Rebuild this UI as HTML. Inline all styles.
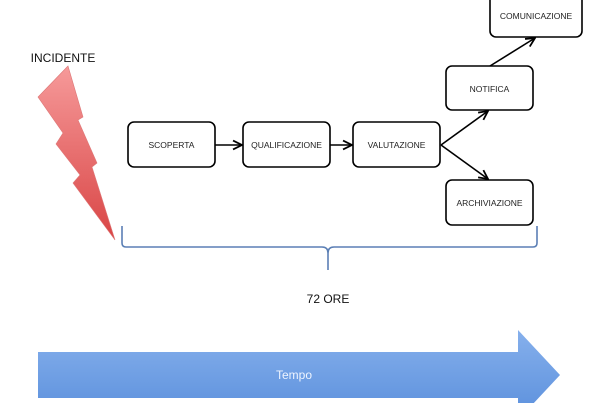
<!DOCTYPE html>
<html><head><meta charset="utf-8"><style>
html,body{margin:0;padding:0;background:#fff;}
svg{display:block;}
text{font-family:"Liberation Sans",sans-serif;}
</style></head><body>
<svg width="600" height="403" viewBox="0 0 600 403" xmlns="http://www.w3.org/2000/svg">
<defs>
<linearGradient id="lg" x1="0" y1="0" x2="0" y2="1">
<stop offset="0" stop-color="#f69a9a"/><stop offset="1" stop-color="#d94545"/>
</linearGradient>
<linearGradient id="bg" x1="0" y1="0" x2="0" y2="1">
<stop offset="0" stop-color="#86b0ec"/><stop offset="1" stop-color="#5a8fdc"/>
</linearGradient>
<marker id="ar" viewBox="0 0 10 10" refX="9" refY="5" markerWidth="7" markerHeight="7" orient="auto">
<path d="M1,1 L9,5 L1,9" fill="none" stroke="#000" stroke-width="1.6"/>
</marker>
</defs>
<text x="63" y="62" font-size="12" text-anchor="middle" fill="#111">INCIDENTE</text>
<polygon points="68,66 83,117 78,120 97,163 92,167 115,240 73,183 80,175 56,144 63,133 38,97" fill="url(#lg)" stroke="#d77" stroke-width="0.6"/>
<g fill="#fff" stroke="#000" stroke-width="1.6">
<rect x="128" y="122" width="87" height="45" rx="6"/>
<rect x="243" y="122" width="87" height="45" rx="6"/>
<rect x="353" y="122" width="87" height="45" rx="6"/>
<rect x="446" y="66" width="87" height="44" rx="6"/>
<rect x="446" y="180" width="87" height="45" rx="6"/>
<rect x="490" y="-6" width="92" height="43" rx="6"/>
</g>
<g font-size="8.5" fill="#222" text-anchor="middle">
<text x="171.5" y="148">SCOPERTA</text>
<text x="286.5" y="148">QUALIFICAZIONE</text>
<text x="396.5" y="148">VALUTAZIONE</text>
<text x="489.5" y="92">NOTIFICA</text>
<text x="489.5" y="206">ARCHIVIAZIONE</text>
<text x="536" y="19">COMUNICAZIONE</text>
</g>
<g stroke="#000" stroke-width="1.6" fill="none" marker-end="url(#ar)">
<line x1="215" y1="145" x2="242" y2="145"/>
<line x1="330" y1="145" x2="352" y2="145"/>
<line x1="441" y1="145" x2="488" y2="111"/>
<line x1="441" y1="145" x2="488" y2="179"/>
<line x1="490" y1="66" x2="535" y2="38"/>
</g>
<path d="M122,226 L122,243 Q122,247 126,247 L322,247 Q328,247 328,253 L328,270 M328,253 Q328,247 334,247 L533,247 Q537,247 537,243 L537,226" fill="none" stroke="#5b7fb5" stroke-width="1.6"/>
<text x="328" y="303" font-size="12" text-anchor="middle" fill="#111">72 ORE</text>
<polygon points="38,352 518,352 518,330 560,375 518,420 518,398 38,398" fill="url(#bg)"/>
<text x="294" y="379" font-size="12" text-anchor="middle" fill="#eef4ff">Tempo</text>
</svg>
</body></html>
